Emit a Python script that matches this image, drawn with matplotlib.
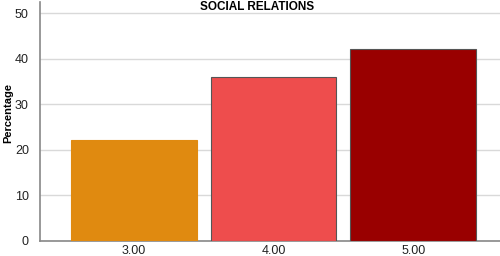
import matplotlib.pyplot as plt

plt.rcParams["font.family"] = ["Liberation Sans", "DejaVu Sans"]

categories = ["3.00", "4.00", "5.00"]
percentages = [22.1, 35.9, 42.2]
bar_colors = ["#E08A10", "#EE4D4D", "#990000"]
edge_colors = ["#E08A10", "#555555", "#555555"]
y_ticks = [0, 10, 20, 30, 40, 50]

fig = plt.figure(figsize=(5, 2.56), dpi=100)
ax = fig.add_axes([40 / 500, 15.3 / 256, 460 / 500, 239 / 256])

x = range(len(categories))
ax.bar(x, percentages, width=0.9, color=bar_colors, edgecolor=edge_colors,
       linewidth=0.8, zorder=3)

ax.set_xlim(-0.668, 2.618)
ax.set_ylim(0, 52.5)
ax.set_xticks(list(x))
ax.set_xticklabels(categories)
ax.set_yticks(y_ticks)
ax.tick_params(axis="both", length=0, labelsize=9, colors="#222222", pad=3)
ax.tick_params(axis="y", pad=8)

ax.grid(axis="y", color="#d9d9d9", linewidth=1, zorder=0)
for side in ["top", "right"]:
    ax.spines[side].set_visible(False)
for side in ["left", "bottom"]:
    ax.spines[side].set_color("#888888")
    ax.spines[side].set_linewidth(1.2)

fig.text(8 / 500, 1 - 113 / 256, "Percentage", rotation=90, ha="center",
         va="center", fontsize=8, fontweight="bold")
fig.text(257 / 500, 1 - 7 / 256, "SOCIAL RELATIONS", ha="center", va="center",
         fontsize=8.5, fontweight="bold")

fig.savefig("out.png", dpi=100)
